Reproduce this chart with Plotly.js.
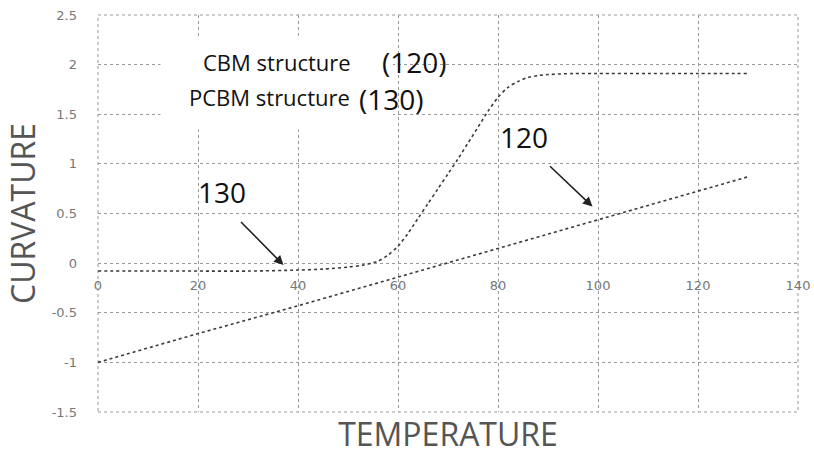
<!DOCTYPE html>
<html>
<head>
<meta charset="utf-8">
<script src="https://cdn.plot.ly/plotly-3.0.1.min.js"></script>
<style>html,body{margin:0;padding:0;background:#fff;}#chart{width:814px;height:457px;}</style>
</head>
<body>
<div id="chart"></div>
<script>
// PCBM structure (130) - sigmoid curve
var pcbmTemp = [0,10,20,30,40,45,50,53,56,58,60,62,64,66,68,70,72,74,76,78,80,82,84,86,88,90,95,100,110,120,130];
var pcbmCurv = [-0.08,-0.08,-0.08,-0.08,-0.07,-0.06,-0.04,-0.02,0.02,0.08,0.17,0.30,0.45,0.60,0.75,0.90,1.05,1.21,1.37,1.53,1.67,1.77,1.83,1.87,1.89,1.90,1.91,1.91,1.91,1.91,1.91];
// CBM structure (120) - linear
var cbmTemp = [0,20,40,60,80,100,120,130];
var cbmCurv = [-1.0,-0.71,-0.43,-0.14,0.15,0.44,0.73,0.87];
// axis ticks
var xTicks = [0,20,40,60,80,100,120,140];
var yTicks = [-1.5,-1,-0.5,0,0.5,1,1.5,2,2.5];
var yTickText = ['-1.5','-1','-0.5','0','0.5','1','1.5','2','2.5'];

var lineColor = '#3a3a3a';
var traces = [
  {x: cbmTemp, y: cbmCurv, mode: 'lines', name: 'CBM structure (120)',
   line: {color: lineColor, width: 1.6, dash: 'dot'}, showlegend: false},
  {x: pcbmTemp, y: pcbmCurv, mode: 'lines', name: 'PCBM structure (130)',
   line: {color: lineColor, width: 1.6, dash: 'dot', shape: 'spline', smoothing: 0.8}, showlegend: false}
];

var tickFont = {family: 'DejaVu Sans', size: 13, color: '#777'};
var layout = {
  width: 814, height: 457,
  margin: {l: 98, r: 16, t: 15, b: 45},
  paper_bgcolor: '#fff', plot_bgcolor: '#fff',
  showlegend: false,
  xaxis: {
    range: [0, 140], tickvals: xTicks, ticktext: xTicks.map(String),
    showgrid: true, gridcolor: '#999', griddash: 'dot', gridwidth: 1,
    zeroline: false, showline: false, ticks: '',
    anchor: 'free', position: 0.375, ticklabelstandoff: 13,
    tickfont: tickFont,
    title: {text: 'TEMPERATURE', font: {family: 'Open Sans', size: 32, color: '#555'}, standoff: 131}
  },
  yaxis: {
    range: [-1.5, 2.5], tickvals: yTicks, ticktext: yTickText,
    showgrid: true, gridcolor: '#999', griddash: 'dot', gridwidth: 1,
    zeroline: false, showline: false, ticks: '', ticklabelstandoff: 20,
    tickfont: tickFont,
    title: {text: 'CURVATURE', font: {family: 'Open Sans', size: 32, color: '#555'}, standoff: 6}
  },
  shapes: [
    {type: 'rect', xref: 'paper', yref: 'paper', x0: 0, x1: 1, y0: 0, y1: 1,
     line: {color: '#999', width: 1, dash: 'dot'}, layer: 'below'},
    {type: 'rect', xref: 'x', yref: 'y', x0: 12.5, x1: 59, y0: 1.35, y1: 2.29,
     fillcolor: '#fff', line: {width: 0}, layer: 'between'}
  ],
  annotations: [
    {x: 51, y: 2.03, xref: 'x', yref: 'y', text: 'CBM structure', showarrow: false, xanchor: 'right',
     font: {family: 'Open Sans', size: 22, color: '#111'}},
    {x: 56.3, y: 2.03, xref: 'x', yref: 'y', text: '(120)', showarrow: false, xanchor: 'left',
     font: {family: 'Open Sans', size: 28, color: '#111'}},
    {x: 50.7, y: 1.67, xref: 'x', yref: 'y', text: 'PCBM structure', showarrow: false, xanchor: 'right',
     font: {family: 'Open Sans', size: 22, color: '#111'}},
    {x: 51.8, y: 1.65, xref: 'x', yref: 'y', text: '(130)', showarrow: false, xanchor: 'left',
     font: {family: 'Open Sans', size: 28, color: '#111'}},
    {x: 24.7, y: 0.72, xref: 'x', yref: 'y', text: '130', showarrow: false,
     font: {family: 'Open Sans', size: 28, color: '#111'}},
    {x: 85.1, y: 1.27, xref: 'x', yref: 'y', text: '120', showarrow: false,
     font: {family: 'Open Sans', size: 28, color: '#111'}},
    {x: 37.1, y: -0.02, ax: 28.3, ay: 0.43, xref: 'x', yref: 'y', axref: 'x', ayref: 'y',
     text: '', showarrow: true, arrowhead: 2, arrowsize: 1.2, arrowwidth: 1.6, arrowcolor: '#222'},
    {x: 98.9, y: 0.57, ax: 90.1, ay: 0.99, xref: 'x', yref: 'y', axref: 'x', ayref: 'y',
     text: '', showarrow: true, arrowhead: 2, arrowsize: 1.2, arrowwidth: 1.6, arrowcolor: '#222'}
  ]
};

Plotly.newPlot('chart', traces, layout, {displayModeBar: false, staticPlot: true});
</script>
</body>
</html>
